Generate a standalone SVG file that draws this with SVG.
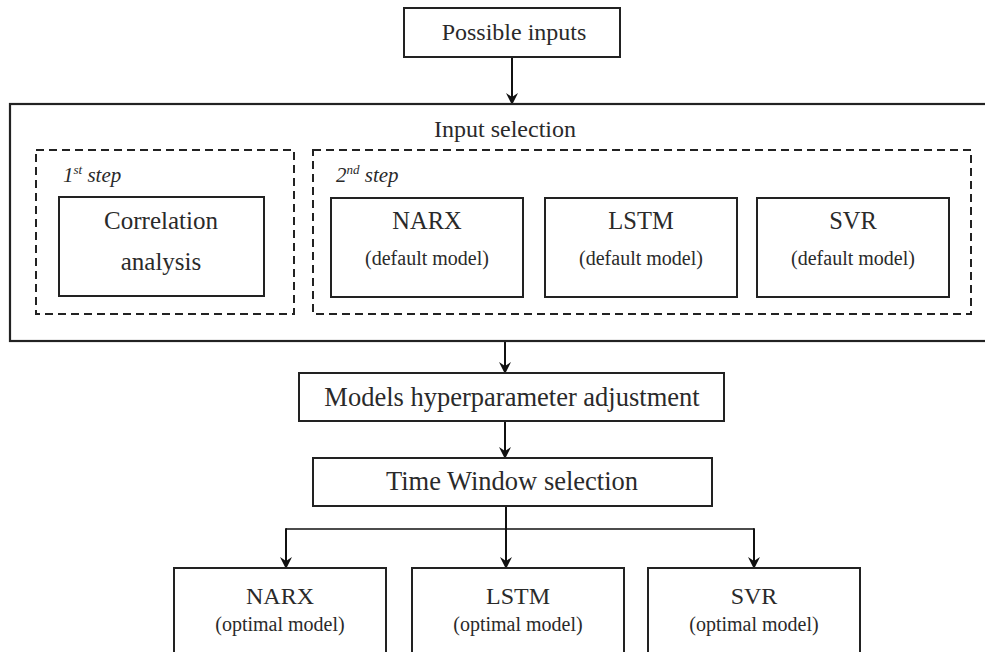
<svg xmlns="http://www.w3.org/2000/svg" width="985" height="652" viewBox="0 0 985 652">
  <defs>
    <marker id="arr" viewBox="0 0 12 12" markerWidth="12" markerHeight="12" refX="11" refY="6" orient="auto" markerUnits="userSpaceOnUse">
      <path d="M0,0 L12,6 L0,12 L4,6 z" fill="#111"/>
    </marker>
  </defs>
  <style>
    .box { fill: #fff; stroke: #222; stroke-width: 2; }
    .dash { fill: none; stroke: #222; stroke-width: 2; stroke-dasharray: 8 5; }
    .t { font-family: "Liberation Serif", "Times New Roman", serif; fill: #2a2a2a; text-anchor: middle; }
    .it { font-family: "Liberation Serif", "Times New Roman", serif; fill: #2a2a2a; font-style: italic; font-size: 21px; }
    .conn { fill: none; stroke: #111; stroke-width: 2; }
    .thin { fill: none; stroke: #111; stroke-width: 1.6; }
  </style>
  <rect width="985" height="652" fill="#fff"/>

  <g id="connectors">
    <line class="conn" x1="512" y1="57" x2="512" y2="104" marker-end="url(#arr)"/>
    <line class="conn" x1="505" y1="342" x2="505" y2="373" marker-end="url(#arr)"/>
    <line class="conn" x1="505" y1="421" x2="505" y2="458" marker-end="url(#arr)"/>
    <line class="conn" x1="506" y1="506" x2="506" y2="568" marker-end="url(#arr)"/>
    <line class="thin" x1="286" y1="529" x2="754" y2="529"/>
    <line class="conn" x1="286" y1="528.2" x2="286" y2="568" marker-end="url(#arr)"/>
    <line class="conn" x1="754" y1="528.2" x2="754" y2="568" marker-end="url(#arr)"/>
  </g>

  <g id="possible-inputs">
    <rect class="box" x="404" y="8" width="216" height="49"/>
    <text class="t" x="514" y="40" font-size="24">Possible inputs</text>
  </g>

  <g id="input-selection">
    <rect class="box" x="10" y="104" width="990" height="237" style="stroke-width:2.2"/>
    <text class="t" x="505" y="137" font-size="24">Input selection</text>
  </g>

  <g id="step1">
    <rect class="dash" x="36" y="150" width="258" height="164"/>
    <text class="it" x="63" y="182">1<tspan font-size="13" dy="-8">st</tspan><tspan dy="8"> step</tspan></text>
  </g>

  <g id="correlation">
    <rect class="box" x="59" y="197" width="205" height="99"/>
    <text class="t" x="161" y="229" font-size="25">Correlation</text>
    <text class="t" x="161" y="270" font-size="25">analysis</text>
  </g>

  <g id="step2">
    <rect class="dash" x="313" y="150" width="658" height="164"/>
    <text class="it" x="336" y="182">2<tspan font-size="13" dy="-8">nd</tspan><tspan dy="8"> step</tspan></text>
  </g>

  <g id="narx-default">
    <rect class="box" x="331" y="198" width="192" height="99"/>
    <text class="t" x="427" y="229" font-size="24.5">NARX</text>
    <text class="t" x="427" y="265" font-size="20">(default model)</text>
  </g>

  <g id="lstm-default">
    <rect class="box" x="545" y="198" width="192" height="99"/>
    <text class="t" x="641" y="229" font-size="24.5">LSTM</text>
    <text class="t" x="641" y="265" font-size="20">(default model)</text>
  </g>

  <g id="svr-default">
    <rect class="box" x="757" y="198" width="192" height="99"/>
    <text class="t" x="853" y="229" font-size="24.5">SVR</text>
    <text class="t" x="853" y="265" font-size="20">(default model)</text>
  </g>

  <g id="hyperparameter">
    <rect class="box" x="299" y="373" width="425" height="48"/>
    <text class="t" x="512" y="406" font-size="26.5">Models hyperparameter adjustment</text>
  </g>

  <g id="time-window">
    <rect class="box" x="313" y="458" width="399" height="48"/>
    <text class="t" x="512" y="490" font-size="26.5">Time Window selection</text>
  </g>

  <g id="narx-optimal">
    <rect class="box" x="174" y="568" width="212" height="100"/>
    <text class="t" x="280" y="604" font-size="24">NARX</text>
    <text class="t" x="280" y="631" font-size="20">(optimal model)</text>
  </g>

  <g id="lstm-optimal">
    <rect class="box" x="412" y="568" width="212" height="100"/>
    <text class="t" x="518" y="604" font-size="24">LSTM</text>
    <text class="t" x="518" y="631" font-size="20">(optimal model)</text>
  </g>

  <g id="svr-optimal">
    <rect class="box" x="648" y="568" width="212" height="100"/>
    <text class="t" x="754" y="604" font-size="24">SVR</text>
    <text class="t" x="754" y="631" font-size="20">(optimal model)</text>
  </g>
</svg>
